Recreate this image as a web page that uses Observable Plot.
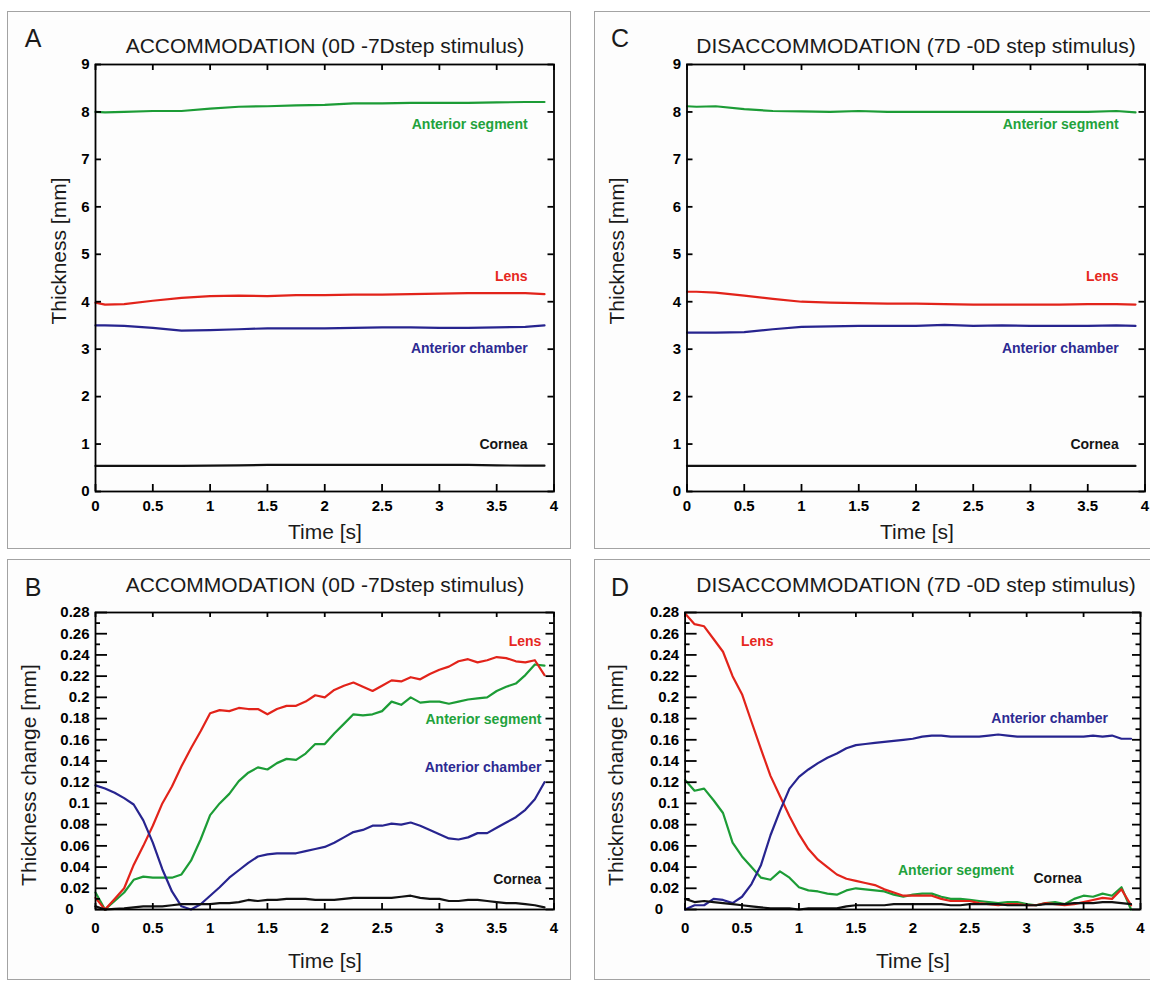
<!DOCTYPE html>
<html><head><meta charset="utf-8">
<script src="https://cdn.jsdelivr.net/npm/d3@7"></script>
<script src="https://cdn.jsdelivr.net/npm/@observablehq/plot@0.6"></script>
<style>
html,body{margin:0;padding:0;background:#fff;}
#page{position:relative;width:1150px;height:983px;overflow:hidden;font-family:"Liberation Sans",Arial,sans-serif;}
.box{position:absolute;border:1.5px solid #a3a3a3;background:#fdfdfd;box-sizing:border-box;}
.chart{position:absolute;}
.t{position:absolute;white-space:nowrap;transform:translate(-50%,-50%);color:#1a1a1a;line-height:1;}
.letter{font-size:25px;}
.title{font-size:21px;}
.axt{font-size:21px;}
.rot{transform:translate(-50%,-50%) rotate(-90deg);}
</style></head><body><div id="page"></div>
<script>
// ---------- data ----------
const seriesNames = ["Anterior segment", "Lens", "Anterior chamber", "Cornea"];
const lineColors = ["#1c9c36", "#e2231a", "#27248f", "#111111"];
const labelColors = ["#22a23c", "#e6281f", "#2c2a92", "#151515"];

const xTicks = [0, 0.5, 1, 1.5, 2, 2.5, 3, 3.5, 4];
const yTicksAC = [0, 1, 2, 3, 4, 5, 6, 7, 8, 9];
const yTicksBD = [0, 0.02, 0.04, 0.06, 0.08, 0.1, 0.12, 0.14, 0.16, 0.18, 0.2, 0.22, 0.24, 0.26, 0.28];
const yMinorBD = [0.01, 0.03, 0.05, 0.07, 0.09, 0.11, 0.13, 0.15, 0.17, 0.19, 0.21, 0.23, 0.25, 0.27];

// Panels A and C: absolute thickness [mm]
const timeAC = [0, 0.083, 0.25, 0.5, 0.75, 1, 1.25, 1.5, 1.75, 2, 2.25, 2.5, 2.75, 3, 3.25, 3.5, 3.75, 3.917];
const A_segment = [8.00, 7.99, 8.00, 8.02, 8.02, 8.07, 8.11, 8.12, 8.14, 8.15, 8.18, 8.18, 8.19, 8.19, 8.19, 8.20, 8.21, 8.21];
const A_lens    = [3.98, 3.94, 3.95, 4.02, 4.08, 4.12, 4.13, 4.12, 4.14, 4.14, 4.15, 4.15, 4.16, 4.17, 4.18, 4.18, 4.18, 4.16];
const A_chamber = [3.50, 3.50, 3.49, 3.45, 3.39, 3.40, 3.42, 3.44, 3.44, 3.44, 3.45, 3.46, 3.46, 3.45, 3.45, 3.46, 3.47, 3.50];
const A_cornea  = [0.54, 0.54, 0.54, 0.54, 0.54, 0.545, 0.55, 0.56, 0.56, 0.56, 0.56, 0.56, 0.56, 0.56, 0.56, 0.55, 0.545, 0.545];
const C_segment = [8.12, 8.11, 8.12, 8.06, 8.02, 8.01, 8.00, 8.02, 8.00, 8.00, 8.00, 8.00, 8.00, 8.00, 8.00, 8.00, 8.02, 7.99];
const C_lens    = [4.21, 4.21, 4.19, 4.13, 4.06, 4.00, 3.98, 3.97, 3.96, 3.96, 3.95, 3.94, 3.94, 3.94, 3.94, 3.95, 3.95, 3.94];
const C_chamber = [3.35, 3.35, 3.35, 3.36, 3.42, 3.47, 3.48, 3.49, 3.49, 3.49, 3.51, 3.49, 3.50, 3.49, 3.49, 3.49, 3.50, 3.49];
const C_cornea  = [0.54, 0.54, 0.54, 0.54, 0.54, 0.54, 0.54, 0.54, 0.54, 0.54, 0.54, 0.54, 0.54, 0.54, 0.54, 0.54, 0.54, 0.54];

// Panels B and D: thickness change [mm]
const timeBD = [0, 0.083, 0.167, 0.25, 0.333, 0.417, 0.5, 0.583, 0.667, 0.75, 0.833, 0.917, 1, 1.083, 1.167, 1.25, 1.333, 1.417, 1.5, 1.583, 1.667, 1.75, 1.833, 1.917, 2, 2.083, 2.167, 2.25, 2.333, 2.417, 2.5, 2.583, 2.667, 2.75, 2.833, 2.917, 3, 3.083, 3.167, 3.25, 3.333, 3.417, 3.5, 3.583, 3.667, 3.75, 3.833, 3.917];
const B_segment = [0.016, 0.0, 0.008, 0.016, 0.028, 0.031, 0.030, 0.030, 0.030, 0.033, 0.046, 0.066, 0.089, 0.100, 0.109, 0.121, 0.129, 0.134, 0.132, 0.138, 0.142, 0.141, 0.147, 0.156, 0.156, 0.166, 0.175, 0.184, 0.183, 0.184, 0.187, 0.196, 0.193, 0.200, 0.195, 0.196, 0.196, 0.194, 0.196, 0.198, 0.199, 0.200, 0.206, 0.210, 0.213, 0.221, 0.231, 0.230];
const B_lens    = [0.011, 0.0, 0.010, 0.020, 0.042, 0.060, 0.079, 0.100, 0.116, 0.135, 0.152, 0.168, 0.185, 0.188, 0.187, 0.190, 0.189, 0.189, 0.184, 0.189, 0.192, 0.192, 0.196, 0.202, 0.200, 0.207, 0.211, 0.214, 0.210, 0.206, 0.211, 0.216, 0.215, 0.219, 0.217, 0.222, 0.226, 0.229, 0.234, 0.236, 0.233, 0.235, 0.238, 0.237, 0.234, 0.233, 0.235, 0.221];
const B_chamber = [0.117, 0.114, 0.110, 0.105, 0.099, 0.084, 0.063, 0.038, 0.017, 0.003, 0.0, 0.005, 0.013, 0.021, 0.030, 0.037, 0.044, 0.050, 0.052, 0.053, 0.053, 0.053, 0.055, 0.057, 0.059, 0.063, 0.068, 0.073, 0.075, 0.079, 0.079, 0.081, 0.080, 0.082, 0.079, 0.075, 0.071, 0.067, 0.066, 0.068, 0.072, 0.072, 0.077, 0.082, 0.087, 0.094, 0.104, 0.120];
const B_cornea  = [0.003, 0.0, 0.0005, 0.001, 0.002, 0.003, 0.003, 0.003, 0.004, 0.005, 0.005, 0.005, 0.005, 0.006, 0.006, 0.007, 0.009, 0.008, 0.009, 0.009, 0.010, 0.010, 0.010, 0.009, 0.009, 0.009, 0.010, 0.011, 0.011, 0.011, 0.011, 0.011, 0.012, 0.013, 0.011, 0.010, 0.010, 0.008, 0.008, 0.009, 0.009, 0.008, 0.007, 0.006, 0.006, 0.005, 0.004, 0.002];
const D_segment = [0.122, 0.112, 0.114, 0.103, 0.091, 0.063, 0.050, 0.040, 0.030, 0.028, 0.036, 0.030, 0.021, 0.018, 0.017, 0.015, 0.014, 0.018, 0.020, 0.019, 0.018, 0.017, 0.014, 0.012, 0.014, 0.015, 0.015, 0.012, 0.010, 0.010, 0.009, 0.008, 0.007, 0.006, 0.007, 0.007, 0.005, 0.004, 0.006, 0.007, 0.005, 0.010, 0.013, 0.012, 0.015, 0.013, 0.021, 0.0];
const D_lens    = [0.279, 0.269, 0.267, 0.255, 0.243, 0.220, 0.203, 0.177, 0.151, 0.126, 0.107, 0.088, 0.071, 0.057, 0.047, 0.040, 0.033, 0.029, 0.027, 0.025, 0.023, 0.019, 0.016, 0.013, 0.013, 0.013, 0.013, 0.010, 0.008, 0.008, 0.008, 0.006, 0.005, 0.004, 0.005, 0.005, 0.004, 0.004, 0.006, 0.005, 0.004, 0.005, 0.007, 0.009, 0.011, 0.010, 0.019, 0.004];
const D_chamber = [0.0, 0.004, 0.004, 0.010, 0.009, 0.006, 0.012, 0.024, 0.042, 0.070, 0.093, 0.114, 0.125, 0.132, 0.138, 0.143, 0.147, 0.152, 0.155, 0.156, 0.157, 0.158, 0.159, 0.160, 0.161, 0.163, 0.164, 0.164, 0.163, 0.163, 0.163, 0.163, 0.164, 0.165, 0.164, 0.163, 0.163, 0.163, 0.163, 0.163, 0.163, 0.163, 0.163, 0.164, 0.163, 0.164, 0.161, 0.161];
const D_cornea  = [0.010, 0.007, 0.008, 0.007, 0.006, 0.005, 0.004, 0.003, 0.002, 0.001, 0.001, 0.001, 0.0, 0.001, 0.001, 0.001, 0.001, 0.003, 0.004, 0.004, 0.004, 0.004, 0.005, 0.005, 0.005, 0.005, 0.005, 0.005, 0.004, 0.004, 0.005, 0.005, 0.005, 0.005, 0.004, 0.004, 0.004, 0.004, 0.005, 0.005, 0.005, 0.006, 0.006, 0.006, 0.007, 0.007, 0.006, 0.005];

// annotation anchors (data coordinates) for series names
const labelX_AC = [3.77, 3.77, 3.77, 3.77];
const labelY_AC = [7.74, 4.53, 3.01, 1.0];
const labelX_B = [3.89, 3.89, 3.89, 3.89];
const labelY_B = [0.179, 0.253, 0.134, 0.028];
const labelX_D = [1.87, 0.49, 2.69, 3.06];
const labelY_D = [0.037, 0.253, 0.180, 0.029];

const titleAcc = "ACCOMMODATION (0D -7Dstep stimulus)";
const titleDis = "DISACCOMMODATION (7D -0D step stimulus)";

// ---------- drawing ----------
const page = document.getElementById("page");
function box(l, t, w, h) {
  const d = document.createElement("div");
  d.className = "box";
  Object.assign(d.style, {left: l + "px", top: t + "px", width: w + "px", height: h + "px"});
  page.appendChild(d);
}
function txt(s, cls, x, y) {
  const d = document.createElement("div");
  d.className = "t " + cls;
  d.textContent = s;
  Object.assign(d.style, {left: x + "px", top: y + "px"});
  page.appendChild(d);
}

function panel(o) {
  const pw = o.w - o.ml - o.mr;   // plot area width (px)
  const ph = o.h - o.mt - o.mb;   // plot area height (px)
  const [y0, y1] = o.yDomain;
  const kx = 4 / pw;              // data units per pixel
  const ky = (y1 - y0) / ph;
  const marks = [];
  o.series.forEach((vals, i) => {
    marks.push(Plot.line(vals, {x: o.time, y: vals, stroke: lineColors[i], strokeWidth: 2.2, strokeLinejoin: "round"}));
  });
  o.series.forEach((vals, i) => {
    marks.push(Plot.text([seriesNames[i]], {x: [o.lx[i]], y: [o.ly[i]], text: d => d, fill: labelColors[i],
      textAnchor: o.anchor, fontSize: 14, fontWeight: "bold"}));
  });
  const fmt = d => String(d);
  const tk = {stroke: "#000", strokeWidth: 1.8};
  const xT = xTicks.map(d => ({v: d}));
  const yM = o.yMajor.map(d => ({v: d}));
  // inward ticks (pixel lengths converted through the scales)
  marks.push(
    Plot.ruleX(xT, {x: "v", y1: () => y0, y2: () => y0 + o.xtb * ky, ...tk}),
    Plot.ruleX(xT, {x: "v", y1: () => y1 - o.xtt * ky, y2: () => y1, ...tk}),
    Plot.ruleY(yM, {y: "v", x1: () => 0, x2: () => o.ytl * kx, ...tk}),
    Plot.ruleY(yM, {y: "v", x1: () => 4 - o.ytr * kx, x2: () => 4, ...tk})
  );
  if (o.yMinor) {
    const ym = o.yMinor.map(d => ({v: d}));
    marks.push(
      Plot.ruleY(ym, {y: "v", x1: () => 0, x2: () => 5 * kx, ...tk}),
      Plot.ruleY(ym, {y: "v", x1: () => 4 - 4.5 * kx, x2: () => 4, ...tk})
    );
  }
  // tick labels
  marks.push(
    Plot.axisX({anchor: "bottom", ticks: xTicks, tickSize: 0, tickPadding: o.xpad, tickFormat: fmt, label: null}),
    Plot.axisY({anchor: "left", ticks: o.yLabels, tickSize: 0, tickPadding: 6, tickFormat: fmt, label: null})
  );
  if (o.zeroShift) {
    marks.push(Plot.axisY({anchor: "left", ticks: [0], tickSize: 0, tickPadding: 6, dx: -o.zeroShift, tickFormat: fmt, label: null}));
  }
  marks.push(Plot.frame({stroke: "#000", strokeWidth: 1.8}));
  const svg = Plot.plot({
    width: o.w, height: o.h,
    marginLeft: o.ml, marginRight: o.mr, marginTop: o.mt, marginBottom: o.mb,
    x: {domain: [0, 4]},
    y: {domain: o.yDomain},
    style: {fontFamily: "'Liberation Sans', Arial, sans-serif", fontSize: "15px", fontWeight: "bold", background: "transparent", color: "#000", overflow: "visible"},
    marks
  });
  svg.classList.add("chart");
  Object.assign(svg.style, {left: o.left + "px", top: o.top + "px"});
  page.appendChild(svg);
}

// panel frames
box(7, 11, 564, 538);
box(594, 11, 570, 538);
box(7, 559, 564, 421);
box(594, 559, 570, 421);

const commonAC = {yDomain: [0, 9], yMajor: yTicksAC, yLabels: yTicksAC, xtb: 7, xtt: 6, ytl: 6, ytr: 6, xpad: 9, h: 550, mt: 64, mb: 59, top: 0, anchor: "end", lx: labelX_AC, ly: labelY_AC, time: timeAC};
panel({...commonAC, series: [A_segment, A_lens, A_chamber, A_cornea], w: 575, ml: 95, mr: 21.5, left: 0});
panel({...commonAC, series: [C_segment, C_lens, C_chamber, C_cornea], w: 570, ml: 106.5, mr: 5.5, left: 580});

const commonBD = {yDomain: [0, 0.28], yMajor: yTicksBD, yMinor: yMinorBD, yLabels: yTicksBD.slice(1), zeroShift: 16, xtb: 6, xtt: 5, ytl: 12, ytr: 8, xpad: 13, h: 431, mt: 60, mb: 74, top: 552, time: timeBD};
panel({...commonBD, series: [B_segment, B_lens, B_chamber, B_cornea], w: 575, ml: 95, mr: 21.5, left: 0, anchor: "end", lx: labelX_B, ly: labelY_B});
panel({...commonBD, series: [D_segment, D_lens, D_chamber, D_cornea], w: 570, ml: 104.6, mr: 10, left: 580, anchor: "start", lx: labelX_D, ly: labelY_D});

// letters, titles, axis titles
txt("A", "letter", 33, 38);
txt("C", "letter", 620, 38);
txt("B", "letter", 33, 587);
txt("D", "letter", 620, 587);
txt(titleAcc, "title", 325, 45);
txt(titleDis, "title", 916, 45);
txt(titleAcc, "title", 325, 584);
txt(titleDis, "title", 916, 584);
txt("Thickness [mm]", "axt rot", 58, 251);
txt("Thickness [mm]", "axt rot", 616, 251);
txt("Thickness change [mm]", "axt rot", 28, 775);
txt("Thickness change [mm]", "axt rot", 615, 775);
txt("Time [s]", "axt", 325, 531);
txt("Time [s]", "axt", 917, 531);
txt("Time [s]", "axt", 325, 960);
txt("Time [s]", "axt", 913, 960);
</script></body></html>
